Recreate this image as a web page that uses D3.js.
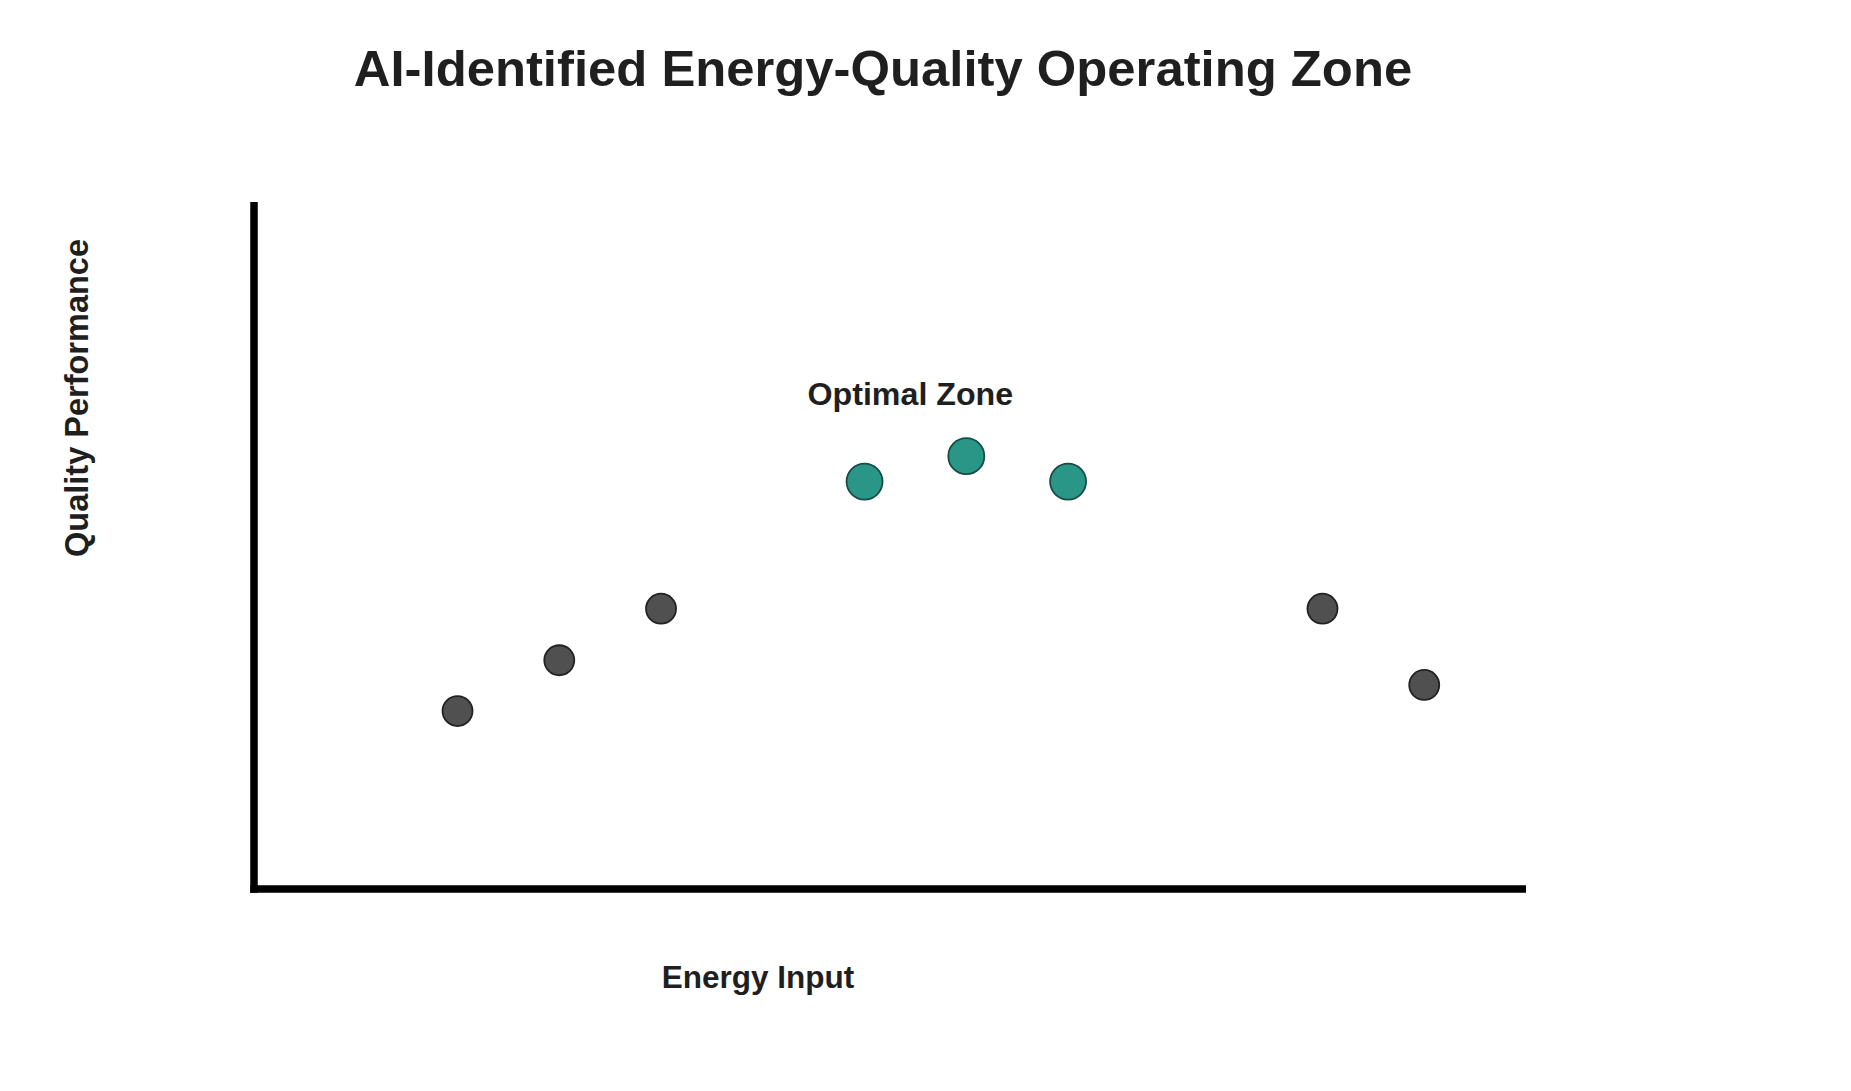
<!DOCTYPE html>
<html>
<head>
<meta charset="utf-8">
<script src="https://cdn.jsdelivr.net/npm/d3@7"></script>
<style>
  html, body { margin: 0; padding: 0; background: #ffffff; }
  svg { display: block; }
  text { font-family: "Liberation Sans", Arial, Helvetica, sans-serif; fill: #1f1f1f; }
</style>
</head>
<body>
<script>
// ---- Data ----
const energyInput = [2, 3, 4, 6, 7, 8, 10.5, 11.5];
const qualityPerformance = [25.9, 33.3, 40.8, 59.3, 63.0, 59.3, 40.8, 29.7];
const inOptimalZone = [false, false, false, true, true, true, false, false];
const xDomain = [0, 12.5];
const yDomain = [0, 100];
const titleText = "AI-Identified Energy-Quality Operating Zone";
const xLabel = "Energy Input";
const yLabel = "Quality Performance";
const annotationText = "Optimal Zone";
const annotationPos = [6.45, 70.4];

// ---- Layout ----
const W = 1851, H = 1091;
const plot = { left: 254, right: 1526, top: 202, bottom: 889 };

const svg = d3.select("body").append("svg").attr("width", W).attr("height", H);

const x = d3.scaleLinear().domain(xDomain).range([plot.left, plot.right]);
const y = d3.scaleLinear().domain(yDomain).range([plot.bottom, plot.top]);

// Title
svg.append("text")
  .attr("x", 883).attr("y", 86)
  .attr("text-anchor", "middle")
  .style("font-size", "50.8px").style("font-weight", "bold")
  .text(titleText);

// Axes (lines only, no ticks)
const xAxis = d3.axisBottom(x).tickValues([]).tickSizeOuter(0);
const yAxis = d3.axisLeft(y).tickValues([]).tickSizeOuter(0);

const gx = svg.append("g").attr("transform", `translate(0,${plot.bottom})`).call(xAxis);
gx.select(".domain").attr("stroke", "#000").attr("stroke-width", 7.5)
  .attr("d", `M${plot.left - 3.75},0H${plot.right}`);
const gy = svg.append("g").attr("transform", `translate(${plot.left},0)`).call(yAxis);
gy.select(".domain").attr("stroke", "#000").attr("stroke-width", 7.5)
  .attr("d", `M0,${plot.bottom + 3.75}V${plot.top}`);

// Axis labels
svg.append("text")
  .attr("x", 758).attr("y", 988)
  .attr("text-anchor", "middle")
  .style("font-size", "31.5px").style("font-weight", "bold")
  .text(xLabel);

svg.append("text")
  .attr("transform", "translate(88,398) rotate(-90)")
  .attr("text-anchor", "middle")
  .style("font-size", "32.5px").style("font-weight", "bold")
  .text(yLabel);

// Points
const pts = energyInput.map((e, i) => ({ e, q: qualityPerformance[i], opt: inOptimalZone[i] }));
svg.append("g").selectAll("circle").data(pts).join("circle")
  .attr("cx", d => x(d.e))
  .attr("cy", d => y(d.q))
  .attr("r", d => d.opt ? 18 : 15)
  .attr("fill", d => d.opt ? "#2a9687" : "#505050")
  .attr("stroke", d => d.opt ? "#174d45" : "#222222")
  .attr("stroke-width", 1.8);

// Annotation
svg.append("text")
  .attr("x", x(annotationPos[0])).attr("y", y(annotationPos[1]))
  .attr("text-anchor", "middle")
  .style("font-size", "32.2px").style("font-weight", "bold")
  .text(annotationText);
</script>
</body>
</html>
